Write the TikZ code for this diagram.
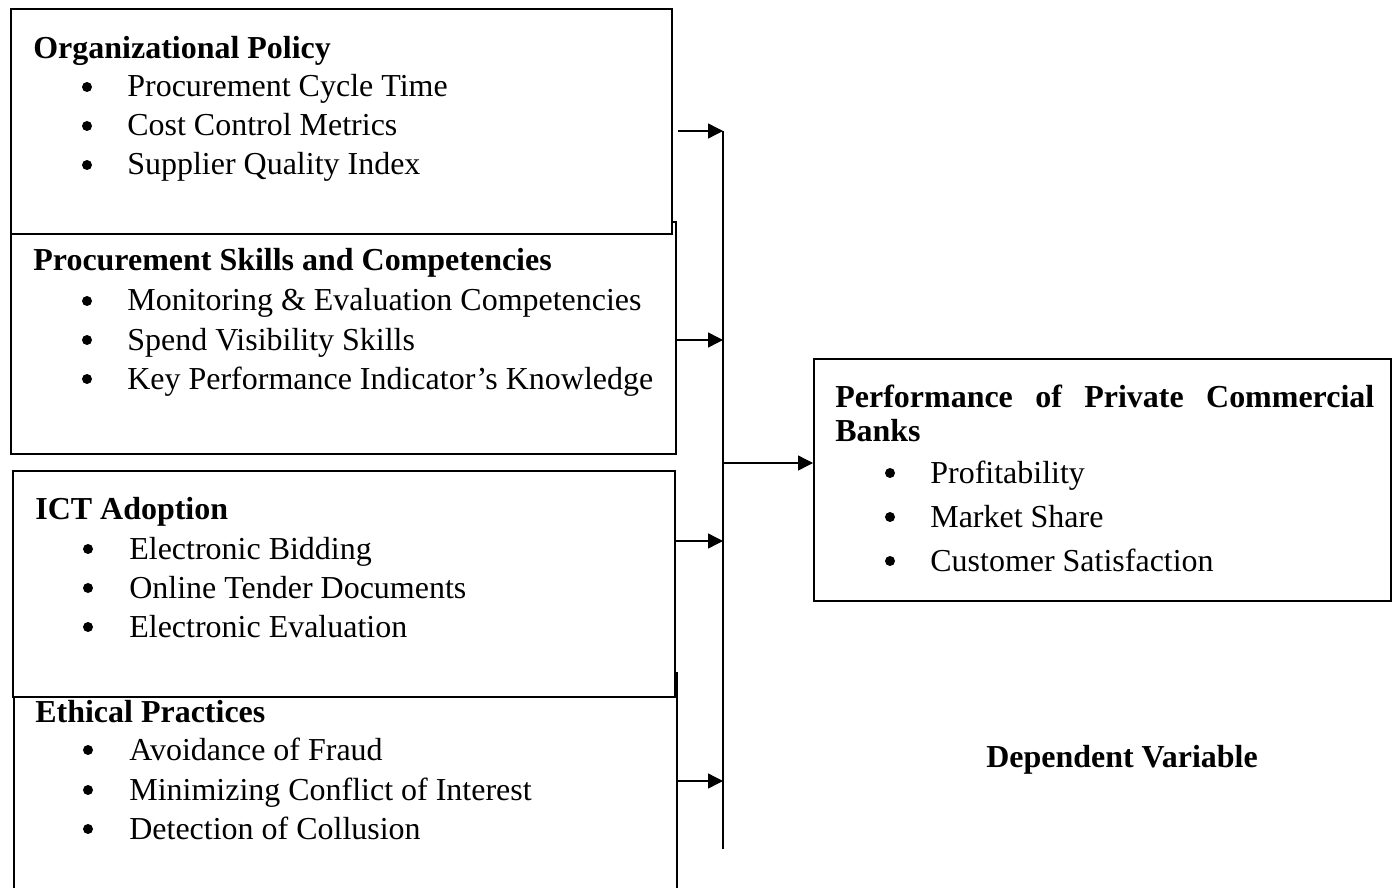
\documentclass[tikz,border=0pt]{standalone}
\usepackage{fontspec}
\setmainfont{Liberation Serif}
\usetikzlibrary{positioning,calc,arrows.meta}

\tikzset{
  varbox/.style={rectangle, draw, fill=white, line width=1.1pt, anchor=north west, inner sep=0pt},
  head/.style={anchor=base west, inner sep=0pt, font=\bfseries},
  entry/.style={anchor=base west, inner sep=0pt},
  dot/.style={circle, fill, inner sep=0pt, minimum size=0.2cm},
  feed/.style={line width=0.8pt, -{Triangle[length=0.3cm,width=0.3cm]}},
}

\begin{document}
\fontsize{18.2}{22}\selectfont
\begin{tikzpicture}[x=0.02cm, y=-0.02cm]
	\useasboundingbox (0,0) rectangle (1398,888);

	% independent variables (lower boxes first, upper ones drawn over them)
	\node[varbox, minimum width=13.3cm, minimum height=4.64cm] (skills) at (10,221) {};
	\node[varbox, minimum width=13.22cm, minimum height=4.5cm] (policy) at (10,8) {};
	\node[varbox, minimum width=13.26cm, minimum height=4.4cm] (ethics) at (13,672) {};
	\node[varbox, minimum width=13.24cm, minimum height=4.52cm] (ict) at (12,470) {};

	% dependent variable
	\node[varbox, minimum width=11.54cm, minimum height=4.84cm] (perf) at (813,358) {};

	% box texts
	\node[head] (policy-t) at (33,59) {Organizational Policy};
	\foreach \y/\t [count=\i] in {97/Procurement Cycle Time, 136/Cost Control Metrics, 175/Supplier Quality Index}{
		\node[dot] (policy-d\i) at (87,\y-10) {};
		\node[entry] (policy-\i) at (127,\y) {\t};
	}
	\node[head] (skills-t) at (33,271) {Procurement Skills and Competencies};
	\foreach \y/\t [count=\i] in {311/Monitoring \& Evaluation Competencies, 350/Spend Visibility Skills, 389/Key Performance Indicator’s Knowledge}{
		\node[dot] (skills-d\i) at (87,\y-10) {};
		\node[entry] (skills-\i) at (127,\y) {\t};
	}
	\node[head] (ict-t) at (35,519) {ICT Adoption};
	\foreach \y/\t [count=\i] in {559/Electronic Bidding, 598/Online Tender Documents, 637/Electronic Evaluation}{
		\node[dot] (ict-d\i) at (88,\y-10) {};
		\node[entry] (ict-\i) at (129,\y) {\t};
	}
	\node[head] (ethics-t) at (35,722) {Ethical Practices};
	\foreach \y/\t [count=\i] in {760/Avoidance of Fraud, 800/Minimizing Conflict of Interest, 839/Detection of Collusion}{
		\node[dot] (ethics-d\i) at (88,\y-10) {};
		\node[entry] (ethics-\i) at (129,\y) {\t};
	}

	\node[head, text width=10.78cm, align=justify, font=\bfseries\fontsize{18.2}{19.5}\selectfont] (perf-t) at (835,407) {Performance of Private Commercial Banks};
	\foreach \y/\t [count=\i] in {483/Profitability, 527/Market Share, 571/Customer Satisfaction}{
		\node[dot] (perf-d\i) at (890,\y-10) {};
		\node[entry] (perf-\i) at (930,\y) {\t};
	}

	\node[anchor=base, inner sep=0pt, font=\bfseries] (dep) at (1122,767) {Dependent Variable};

	% collecting line and arrows
	\coordinate (bus1) at (723,131);
	\coordinate (bus2) at (723,340);
	\coordinate (bus3) at (723,541);
	\coordinate (bus4) at (723,781);
	\coordinate (busend) at (723,849);
	\coordinate (hub) at (723,463);
	\draw[line width=1.1pt] (bus1) -- (busend);
	\draw[feed] ([xshift=0.1cm]policy.east |- bus1) -- (bus1);
	\draw[feed] (skills.east |- bus2) -- (bus2);
	\draw[feed] (ict.east |- bus3) -- (bus3);
	\draw[feed] (ethics.east |- bus4) -- (bus4);
	\draw[feed] (hub) -- (perf.west |- hub);
\end{tikzpicture}
\end{document}
